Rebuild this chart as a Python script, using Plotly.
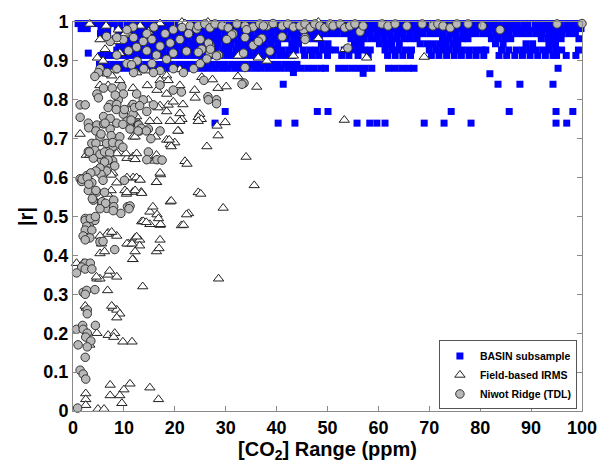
import plotly.graph_objects as go

# ---------------- BASIN subsample (blue squares), read as horizontal bands ----------------
basin_r996 = [1.0, 2.2, 3.3, 4.6, 5.8, 7.0, 8.1, 9.4, 10.6, 11.7, 13.0, 14.2, 15.3, 16.6, 17.8, 19.0, 20.1, 21.4,
              22.6, 23.7, 25.0, 26.2, 27.3, 28.6, 29.8, 31.0, 32.1, 33.4, 34.6, 35.7, 37.0, 38.2, 39.3, 40.6, 41.8,
              43.0, 44.1, 45.4, 46.6, 47.7, 49.0, 50.2, 51.3, 52.6, 53.8, 55.0, 56.1, 57.4, 58.6, 59.7, 61.0, 62.2,
              63.3, 64.6, 65.8, 67.0, 68.1, 69.4, 70.6, 71.7, 73.0, 74.2, 75.3, 76.6, 77.8, 79.0, 80.1, 81.4, 82.6,
              83.7, 85.0, 86.2, 87.3, 88.6, 89.8, 91.0, 92.1, 93.4, 94.6, 95.7, 97.0, 98.2, 99.4]
basin_r983 = [1.6, 2.8, 5.5, 6.8, 8.7, 10.0, 11.2, 12.4, 13.6, 14.8, 16.0, 17.2, 18.4, 19.6, 20.8, 22.0, 23.2, 24.4,
              25.6, 26.8, 28.0, 29.2, 30.4, 31.6, 32.8, 34.0, 35.2, 36.4, 37.6, 38.8, 40.0, 41.2, 42.4, 43.6, 44.8,
              46.0, 47.2, 48.4, 49.6, 50.8, 52.0, 53.2, 54.4, 55.6, 56.8, 58.0, 59.2, 60.4, 61.6, 62.8, 64.0, 65.2,
              66.4, 67.6, 68.8, 70.0, 71.2, 72.4, 73.6, 74.8, 76.0, 77.2, 78.4, 79.6, 80.8, 82.0, 83.2, 84.4, 85.6,
              86.8, 88.0, 89.2, 90.4, 91.6, 92.8, 94.0, 95.2, 96.4, 97.6, 98.8, 99.8]
basin_r970 = [5.4, 6.8, 9.0, 10.3, 11.6, 12.9, 14.2, 15.5, 16.8, 18.1, 19.4, 20.7, 22.0, 23.3, 24.6, 25.9, 27.2,
              28.5, 29.8, 31.1, 32.4, 33.7, 35.0, 36.3, 37.6, 38.9, 40.2, 41.5, 42.8, 44.1, 45.4, 46.7, 48.0, 49.3,
              50.6, 51.9, 53.2, 54.5, 55.8, 57.1, 58.4, 59.7, 61.0, 62.3, 63.6, 64.9, 66.2, 67.5, 68.8, 70.1, 71.4,
              72.7, 74.0, 75.3, 76.6, 77.9, 79.2, 80.5, 81.8, 83.1, 84.4, 85.7, 87.0, 88.3, 89.6, 90.9, 92.2, 93.5,
              94.8, 96.1, 97.4, 98.7]
basin_r957 = [8.3, 9.6, 10.9, 12.2, 13.5, 14.8, 16.1, 17.4, 18.7, 20.0, 21.3, 22.6, 23.9, 25.2, 26.5, 27.8, 29.1,
              30.4, 31.7, 33.0, 34.3, 35.6, 36.9, 38.2, 39.5, 40.8, 42.1, 43.4, 44.7, 46.0, 47.3, 48.4, 54.6, 55.9,
              57.2, 58.5, 59.8, 61.1, 62.4, 63.7, 65.0, 66.3, 67.6, 72.6, 73.9, 75.2, 76.5, 77.6, 82.2, 83.5, 84.8,
              86.0, 92.0, 93.3, 94.6, 95.9, 99.4]
basin_r944 = [9.0, 10.3, 11.6, 12.9, 14.2, 15.5, 16.8, 18.1, 19.4, 20.7, 22.0, 23.3, 24.6, 25.9, 27.2, 28.5, 29.8,
              31.1, 32.4, 33.7, 35.0, 36.3, 37.6, 38.9, 40.2, 43.0, 44.3, 48.8, 50.1, 55.3, 56.6, 60.2, 61.5, 62.6,
              64.1, 68.2, 69.5, 70.8, 72.1, 73.3, 74.6, 75.6, 83.0, 84.5, 89.0, 90.3, 93.5, 94.8]
basin_r928 = [8.6, 9.9, 11.2, 12.5, 13.8, 15.1, 16.4, 17.7, 19.0, 20.3, 21.6, 22.9, 24.2, 25.5, 26.8, 28.1, 29.4,
              30.7, 32.0, 33.3, 34.6, 35.9, 37.2, 38.5, 39.8, 41.1, 42.4, 43.7, 45.2, 46.5, 47.8, 49.1, 50.4, 51.6,
              53.3, 54.6, 55.9, 57.2, 58.4, 61.3, 62.6, 63.9, 65.2, 66.5, 70.0, 71.3, 72.6, 73.9, 75.2, 76.5, 77.8,
              79.1, 80.4, 81.1, 84.2, 85.6, 87.1, 88.4, 89.7, 91.0, 92.3, 93.6, 94.9, 96.0, 99.3]
basin_r914 = [5.5, 6.8, 8.1, 9.4, 10.7, 12.0, 13.3, 14.6, 15.9, 17.2, 18.5, 19.8, 21.1, 22.4, 23.7, 25.0, 26.3,
              27.6, 28.9, 30.2, 31.5, 32.8, 34.1, 35.4, 36.7, 38.0, 39.3, 40.6, 41.9, 43.2, 45.5, 47.0, 48.3, 50.0,
              52.8, 54.2, 56.0, 58.0, 61.8, 63.3, 64.8, 66.3, 70.4, 71.9, 73.4, 74.9, 76.3, 77.8, 79.2, 80.7, 83.7,
              85.2, 86.8, 88.3, 89.8, 91.3, 92.8, 94.3, 95.0, 96.9, 98.8]
basin_r891 = [5.2, 6.5, 7.8, 9.1, 10.4, 11.7, 13.0, 14.3, 15.6, 16.9, 18.2, 19.5, 20.8, 22.1, 23.4, 24.7, 26.0,
              27.3, 28.6, 29.9, 31.2, 32.5, 33.8, 35.1, 36.4, 37.7, 39.0, 40.3, 41.6, 42.9, 44.0]
basin_r881 = [5.8, 7.1, 8.4, 9.7, 11.0, 12.3, 13.6, 14.9, 16.2, 17.5, 18.8, 20.1, 21.4, 22.7, 24.0, 25.3, 26.6,
              27.9, 29.2, 30.5, 31.8, 33.1, 34.4, 35.7, 37.0, 38.3, 39.6, 40.9, 42.2, 43.5, 44.8, 46.1, 47.4, 48.7,
              49.6, 52.2, 53.5, 54.8, 56.1, 57.4, 58.7, 62.0, 63.3, 64.6, 65.9, 67.0, 95.3]
basin_out_x = [3.0, 43.3, 57.0, 81.9, 41.3, 83.5, 87.8, 94.3, 29.9, 48.0, 50.1, 74.3, 85.7, 94.9, 98.2,
               27.9, 40.3, 43.6, 55.8, 58.3, 59.7, 61.3, 69.0, 72.9, 78.2, 94.9, 97.0]
basin_out_r = [0.92, 0.87, 0.868, 0.867, 0.84, 0.84, 0.84, 0.84, 0.77, 0.77, 0.77, 0.77, 0.77, 0.77, 0.77,
               0.74, 0.74, 0.74, 0.74, 0.74, 0.74, 0.74, 0.74, 0.74, 0.74, 0.74, 0.74]
basin_levels = [(0.996, basin_r996), (0.983, basin_r983), (0.970, basin_r970), (0.957, basin_r957),
                (0.944, basin_r944), (0.928, basin_r928), (0.914, basin_r914), (0.891, basin_r891),
                (0.881, basin_r881)]

# ---------------- Field-based IRMS (open triangles) ----------------
irms_x = [3.3, 6.5, 8.9, 10.9, 13.2, 14.8, 17.1, 21.4, 22.0, 26.5, 5.3, 6.3, 8.6, 9.2, 4.8, 6.7, 8.0, 5.3, 6.9,
          9.2, 11.8, 12.5, 14.5, 17.1, 18.4, 21.0, 18.7, 1.4, 2.6, 5.3, 7.0, 7.8, 8.6, 10.5, 6.8, 7.6, 5.9, 10.2,
          32.5, 36.4, 43.3, 38.1, 48.2, 53.4, 57.7, 69.0, 53.3, 48.2,
          25.3, 27.4, 32.4, 36.1, 28.5, 30.1, 23.9, 24.0, 21.6, 19.7, 18.4, 16.5, 14.6, 18.7, 21.0, 24.9, 24.9,
          21.4, 19.1, 16.5, 16.2, 18.4, 20.0, 19.1, 20.7, 17.1, 14.8, 11.5, 12.8, 11.8, 8.6, 10.6, 11.8, 16.4,
          22.0, 17.2, 11.8, 13.1, 16.4, 10.2, 11.8, 13.4, 19.1, 15.1, 16.5, 22.7, 21.3, 13.5, 15.1, 17.1, 6.9, 8.6,
          16.7, 18.4, 21.0, 21.0, 12.5, 12.8, 15.1, 12.2, 18.9, 20.6, 19.3, 3.3, 10.4, 12.5, 12.2, 16.4, 16.1,
          22.4, 7.5, 10.6, 12.5, 13.2, 17.1, 16.4, 7.5, 10.6, 12.2, 13.5, 19.3, 15.7, 24.6,
          24.6, 25.2, 24.6, 28.3, 29.9, 28.5, 26.3, 34.0, 35.6, 25.1, 29.5,
          13.8, 14.4, 17.2, 21.7, 6.7, 5.3, 12.2, 13.1, 17.1, 10.9, 13.1, 12.2, 16.4, 11.8, 5.3, 2.0, 6.9, 8.6,
          4.7, 5.3, 13.7, 6.8, 28.6, 7.9, 8.6, 9.2, 8.6, 2.6, 4.7, 6.9, 8.2, 8.0, 9.8, 11.6, 3.3, 7.3, 11.2,
          15.1, 10.0, 7.3, 9.2, 16.8, 9.6, 2.5, 2.5, 2.5, 4.9, 6.1,
          22.3, 16.8, 7.6, 12.5, 10.6, 11.6, 16.9, 5.6, 6.2, 11.7, 0.7, 7.2, 4.6, 2.4, 7.6]
irms_r = [0.995, 0.99, 0.98, 0.967, 0.99, 0.975, 0.996, 1.0, 0.996, 1.0, 0.955, 0.93, 0.95, 0.92, 0.908, 0.867,
          0.875, 0.837, 0.837, 0.85, 0.83, 0.87, 0.875, 0.85, 0.862, 0.878, 0.787, 0.712, 0.658, 0.688, 0.671,
          0.612, 0.587, 0.558, 0.558, 0.862, 0.9, 0.97,
          0.913, 0.908, 0.913, 0.9, 0.958, 0.93, 0.908, 0.91, 0.748, 1.0,
          0.858, 0.852, 0.86, 0.833, 0.83, 0.834, 0.825, 0.805, 0.788, 0.795, 0.815, 0.825, 0.837, 0.85, 0.837,
          0.763, 0.75, 0.75, 0.745, 0.745, 0.705, 0.697, 0.69, 0.685, 0.72, 0.785, 0.8, 0.788, 0.742, 0.705,
          0.662, 0.65, 0.654, 0.654, 0.642, 0.608, 0.6, 0.595, 0.588, 0.567, 0.563, 0.563, 0.538, 0.512, 0.505,
          0.508, 0.477, 0.487, 0.48, 0.478, 0.458, 0.45,
          0.78, 0.77, 0.765, 0.745, 0.757, 0.737, 0.745, 0.705, 0.697, 0.72, 0.68, 0.658, 0.662, 0.662, 0.647,
          0.658, 0.643, 0.635, 0.607, 0.6, 0.6, 0.594, 0.612, 0.588, 0.567, 0.562, 0.567, 0.56, 0.54, 0.525, 0.562,
          0.755, 0.75, 0.745, 0.733, 0.742, 0.708, 0.68, 0.653, 0.58, 0.558, 0.522,
          0.4875, 0.485, 0.48, 0.478, 0.455, 0.45, 0.445, 0.44, 0.44, 0.43, 0.425, 0.41, 0.41, 0.39, 0.405, 0.38,
          0.35, 0.345, 0.34, 0.34, 0.32, 0.31, 0.34, 0.265, 0.26, 0.25, 0.24, 0.265, 0.2, 0.195, 0.2, 0.19,
          0.178, 0.178, 0.17, 0.067, 0.07, 0.06, 0.055, 0.04, 0.04, 0.03, 0.02, 0.045, 0.03, 0.015, 0.005, 0.005,
          0.505, 0.495, 0.46, 0.448, 0.43, 0.43, 0.418, 0.43, 0.41, 0.39, 0.38, 0.36, 0.345, 0.27, 0.27]

# ---------------- Niwot Ridge (TDL) (grey circles) ----------------
niwot_x = [11.8, 10.6, 14.5, 15.9, 18.1, 19.7, 21.4, 23.0, 22.7, 24.3, 24.6, 25.9, 26.9, 27.9, 29.3, 30.5, 32.2,
           33.8, 35.4, 36.7, 38.1, 39.3, 41.1, 42.2, 43.3, 45.3, 47.2, 31.5, 34.1, 37.4,
           31.2, 33.8, 37.1, 41.1, 45.6, 25.3, 26.9, 24.6, 26.9, 28.6, 33.8, 25.7, 26.5, 28.2, 33.6, 33.2, 28.2,
           26.6,
           19.7, 21.3, 17.1, 21.7, 23.7, 25.0, 26.3, 17.1, 15.5, 13.9, 11.9, 12.6, 10.6, 8.6, 6.7, 5.3, 5.0, 4.3,
           4.7, 5.0, 1.4, 6.0, 7.7, 9.6, 9.9, 8.9, 7.3, 12.5, 13.8, 15.8, 14.5, 11.8, 9.9, 8.6, 8.3, 11.8,
           7.3, 9.9, 11.9, 13.8, 15.5, 17.1, 19.1, 21.0, 25.0, 26.6, 28.2, 27.0, 22.3, 19.7, 18.4, 16.4, 14.5,
           12.5, 10.9, 8.6, 11.5, 15.8, 19.7, 8.6, 6.6, 30.2, 33.5, 35.4, 38.7, 36.4,
           2.4, 1.4, 3.0, 4.7, 6.0, 7.3, 8.6, 10.6, 12.9, 14.8, 17.1, 6.6, 7.9, 5.3, 3.7, 3.0, 4.7, 4.0, 5.6, 7.2,
           5.3, 6.6, 2.7, 1.4, 1.7, 3.7, 3.0, 4.7, 4.0, 5.6, 6.6, 10.7, 8.0, 9.4, 2.4, 3.2, 4.3, 16.5, 14.8, 13.1,
           15.3, 14.5,
           6.9, 8.5, 10.1, 12.1, 13.1, 6.0, 7.3, 3.1, 6.3, 9.8, 11.4, 13.4, 14.4, 4.5, 5.5, 7.5, 9.2, 11.2, 12.8,
           7.8, 9.1, 9.8, 4.5, 4.3, 5.3, 6.2, 3.2, 7.2, 7.8, 8.2, 6.9, 6.2, 5.3, 5.5, 4.5, 3.5, 1.8, 2.8, 5.9,
           10.1, 3.1, 4.5, 6.2, 3.8, 5.7, 6.4, 8.0, 11.2, 17.5,
           5.3, 7.9, 11.0, 2.4, 3.4, 4.4, 2.7, 2.4, 3.7, 2.0, 3.3, 2.4, 5.3, 5.9, 8.2, 2.4, 3.4, 1.7, 0.7, 2.0,
           2.7, 4.3, 2.4, 3.7, 2.4, 2.8, 2.8, 0.7, 1.9, 2.0, 2.8, 4.4, 2.5, 3.5, 1.0, 2.8, 2.4, 1.4, 2.0, 2.5,
           0.9,
           44.6, 45.6, 46.6, 47.5, 48.5, 49.5, 50.5, 51.1, 52.5, 53.4, 54.4, 55.4, 56.4, 57.0, 60.7, 61.9, 63.3,
           65.6, 68.6, 70.7, 71.7, 72.7, 74.1, 75.4, 77.6, 80.4, 83.9, 95.1, 100.0, 45.6, 54.0]
niwot_r = [0.987, 0.98, 0.97, 0.987, 0.97, 0.98, 0.986, 0.99, 0.97, 0.982, 0.99, 0.995, 0.985, 0.995, 0.99, 0.985,
           0.995, 0.99, 0.987, 0.995, 0.99, 0.996, 0.99, 0.995, 0.987, 0.98, 0.99, 0.97, 0.98, 0.99,
           0.967, 0.96, 0.958, 0.962, 0.96, 0.93, 0.94, 0.922, 0.92, 0.915, 0.883, 0.85, 0.808, 0.8, 0.843, 0.84,
           0.79, 0.8,
           0.825, 0.82, 0.838, 0.87, 0.88, 0.893, 0.905, 0.875, 0.893, 0.88, 0.87, 0.9, 0.893, 0.88, 0.87, 0.88,
           0.87, 0.86, 0.815, 0.805, 0.787, 0.83, 0.83, 0.834, 0.815, 0.8, 0.788, 0.815, 0.8, 0.787, 0.77, 0.763,
           0.763, 0.788, 0.812, 0.788,
           0.95, 0.955, 0.96, 0.95, 0.955, 0.938, 0.946, 0.955, 0.955, 0.946, 0.913, 0.93, 0.925, 0.92, 0.904,
           0.915, 0.926, 0.935, 0.926, 0.915, 0.89, 0.87, 0.88, 0.96, 0.963, 0.955, 0.92, 0.94, 0.925, 0.95,
           0.787, 0.755, 0.74, 0.735, 0.738, 0.725, 0.74, 0.745, 0.735, 0.725, 0.72, 0.688, 0.68, 0.705, 0.688,
           0.667, 0.662, 0.65, 0.646, 0.637, 0.62, 0.617, 0.605, 0.597, 0.59, 0.587, 0.567, 0.563, 0.542, 0.533,
           0.521, 0.525, 0.542, 0.508, 0.495, 0.478, 0.49, 0.646, 0.666, 0.72, 0.7, 0.646,
           0.78, 0.775, 0.775, 0.78, 0.785, 0.757, 0.752, 0.728, 0.74, 0.737, 0.748, 0.727, 0.72, 0.72, 0.712,
           0.708, 0.705, 0.725, 0.72, 0.69, 0.686, 0.678, 0.688, 0.67, 0.66, 0.666, 0.666, 0.663, 0.643, 0.63,
           0.645, 0.64, 0.625, 0.608, 0.617, 0.612, 0.596, 0.6, 0.593, 0.593, 0.583, 0.567, 0.562, 0.546, 0.538,
           0.534, 0.525, 0.527, 0.645,
           0.52, 0.515, 0.52, 0.49, 0.495, 0.5, 0.475, 0.465, 0.465, 0.45, 0.445, 0.44, 0.435, 0.436, 0.415, 0.38,
           0.38, 0.37, 0.355, 0.305, 0.31, 0.312, 0.365, 0.365, 0.3, 0.26, 0.25, 0.21, 0.22, 0.21, 0.2, 0.22,
           0.19, 0.18, 0.17, 0.165, 0.138, 0.105, 0.095, 0.082, 0.0075,
           0.99, 0.995, 0.985, 0.995, 0.99, 0.985, 0.995, 0.99, 0.995, 0.985, 0.99, 0.995, 0.975, 0.99, 0.995,
           0.99, 0.995, 0.99, 0.995, 0.99, 0.995, 0.99, 0.985, 0.995, 0.995, 0.99, 0.98, 0.995, 0.996, 0.955,
           0.933]

x_ticks = [0, 10, 20, 30, 40, 50, 60, 70, 80, 90, 100]
y_ticks = [0, 0.1, 0.2, 0.3, 0.4, 0.5, 0.6, 0.7, 0.8, 0.9, 1]
y_tick_text = ["0", "0.1", "0.2", "0.3", "0.4", "0.5", "0.6", "0.7", "0.8", "0.9", "1"]

basin_x, basin_y = [], []
for lvl, xs in basin_levels:
    basin_x += xs
    basin_y += [lvl] * len(xs)
basin_x += basin_out_x
basin_y += basin_out_r

fig = go.Figure()
fig.add_trace(go.Scatter(x=basin_x, y=basin_y, mode="markers", name="BASIN subsample",
                         cliponaxis=False,
                         marker=dict(symbol="square", size=7, color="#0000ff", line=dict(width=0))))
fig.add_trace(go.Scatter(x=irms_x, y=irms_r, mode="markers", name="Field-based IRMS",
                         cliponaxis=False,
                         marker=dict(symbol="triangle-up", size=9, color="white",
                                     line=dict(width=1, color="#222222"))))
fig.add_trace(go.Scatter(x=niwot_x, y=niwot_r, mode="markers", name="Niwot Ridge (TDL)",
                         cliponaxis=False,
                         marker=dict(symbol="circle", size=8.5, color="#b8b8b8",
                                     line=dict(width=1, color="#333333"))))

axis_common = dict(showgrid=False, zeroline=False, showline=True, linecolor="#8a8a8a", linewidth=1,
                   mirror="ticks", ticks="inside", ticklen=5, tickcolor="#8a8a8a",
                   tickfont=dict(family="Liberation Sans", size=18, color="black", weight="bold"))

fig.update_layout(
    width=611, height=464,
    margin=dict(l=73, r=29, t=15, b=49),
    paper_bgcolor="white", plot_bgcolor="white",
    font=dict(family="Liberation Sans", color="black"),
    xaxis=dict(range=[0, 100], tickvals=x_ticks, ticktext=[str(v) for v in x_ticks],
               title=dict(text="<b>[CO<sub>2</sub>] Range (ppm)</b>", standoff=0,
                          font=dict(family="Liberation Sans", size=20, color="black")),
               **axis_common),
    yaxis=dict(range=[0, 1], tickvals=y_ticks, ticktext=y_tick_text,
               title=dict(text="<b>|r|</b>", standoff=4,
                          font=dict(family="Liberation Sans", size=20, color="black")),
               **axis_common),
    legend=dict(x=0.99, y=0.004, xanchor="right", yanchor="bottom",
                bgcolor="white", bordercolor="#555555", borderwidth=1,
                font=dict(family="Liberation Sans", size=10.5, color="black", weight="bold"),
                tracegroupgap=0, itemwidth=30),
    showlegend=True,
)

fig.write_html("out.html")
